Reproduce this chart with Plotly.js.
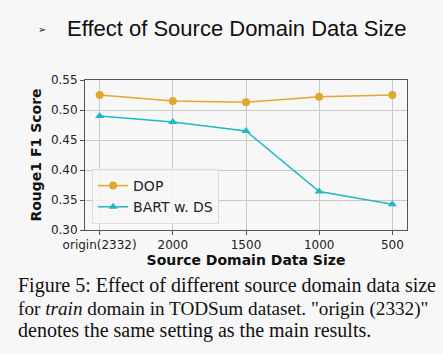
<!DOCTYPE html>
<html>
<head>
<meta charset="utf-8">
<script src="https://cdn.plot.ly/plotly-3.0.1.min.js"></script>
<style>
  html, body { margin: 0; padding: 0; background: #f7f7f7; }
  #chart { width: 443px; height: 354px; }
</style>
</head>
<body>
<div id="chart"></div>
<script>
var sizes = ["origin(2332)", "2000", "1500", "1000", "500"];
var dopScores = [0.525, 0.515, 0.513, 0.522, 0.525];
var bartScores = [0.490, 0.480, 0.465, 0.364, 0.343];

var captionLines = [
    "Figure 5: Effect of different source domain data size",
    "for <i>train</i> domain in TODSum dataset. \"origin (2332)\"",
    "denotes the same setting as the main results."
];

var dopTrace = {
    type: "scatter",
    mode: "lines+markers",
    name: "DOP",
    x: sizes,
    y: dopScores,
    line: { color: "#e0a82e", width: 1.5 },
    marker: { color: "#e0a82e", size: 8, symbol: "circle" }
};

var bartTrace = {
    type: "scatter",
    mode: "lines+markers",
    name: "BART w. DS",
    x: sizes,
    y: bartScores,
    line: { color: "#1fb9c3", width: 1.5 },
    marker: { color: "#1fb9c3", size: 8, symbol: "triangle-up" }
};

// caption: one annotation per line so the spacing matches
var captionY = [-0.373, -0.527, -0.673];
var captionSize = [20, 19.2, 20];
var annotations = [
    {
        text: "➢", xref: "paper", yref: "paper",
        x: -0.152, y: 1.335, xanchor: "left", yanchor: "middle",
        showarrow: false, font: { family: "DejaVu Sans", size: 10, color: "#222" }
    },
    {
        text: "Effect of Source Domain Data Size", xref: "paper", yref: "paper",
        x: -0.062, y: 1.345, xanchor: "left", yanchor: "middle",
        showarrow: false, font: { family: "Liberation Sans", size: 22, color: "#111" }
    }
];
captionLines.forEach(function (line, i) {
    annotations.push({
        text: line, xref: "paper", yref: "paper",
        x: -0.215, y: captionY[i], xanchor: "left", yanchor: "middle", align: "left",
        showarrow: false,
        font: { family: "Liberation Serif", size: captionSize[i], color: "#111" }
    });
});

var layout = {
    width: 443,
    height: 354,
    paper_bgcolor: "#f7f7f7",
    plot_bgcolor: "#f7f7f7",
    margin: { l: 85, r: 36, t: 80, b: 124 },
    font: { family: "DejaVu Sans", size: 12, color: "#222" },
    showlegend: true,
    legend: {
        x: 0.022, y: 0.04, xanchor: "left", yanchor: "bottom",
        bgcolor: "rgba(247,247,247,0.85)",
        bordercolor: "#dddddd", borderwidth: 1,
        font: { family: "DejaVu Sans", size: 14, color: "#222" }
    },
    xaxis: {
        type: "category",
        range: [-0.2, 4.2],
        showgrid: true, gridcolor: "#c8c8c8", gridwidth: 1,
        showline: true, linecolor: "#555", linewidth: 1, mirror: true,
        ticks: "outside", ticklen: 4, tickcolor: "#555",
        tickfont: { family: "DejaVu Sans", size: 12, color: "#222" },
        title: { text: "<b>Source Domain Data Size</b>", standoff: 3,
                 font: { family: "DejaVu Sans", size: 14, color: "#111" } }
    },
    yaxis: {
        range: [0.30, 0.55],
        dtick: 0.05,
        tickformat: ".2f",
        showgrid: true, gridcolor: "#c8c8c8", gridwidth: 1,
        zeroline: false,
        showline: true, linecolor: "#555", linewidth: 1, mirror: true,
        ticks: "outside", ticklen: 4, tickcolor: "#555",
        tickfont: { family: "DejaVu Sans", size: 12, color: "#222" },
        title: { text: "<b>Rouge1 F1 Score</b>", standoff: 5,
                 font: { family: "DejaVu Sans", size: 14, color: "#111" } }
    },
    annotations: annotations
};

Plotly.newPlot("chart", [dopTrace, bartTrace], layout, { displayModeBar: false, staticPlot: true });
</script>
</body>
</html>
